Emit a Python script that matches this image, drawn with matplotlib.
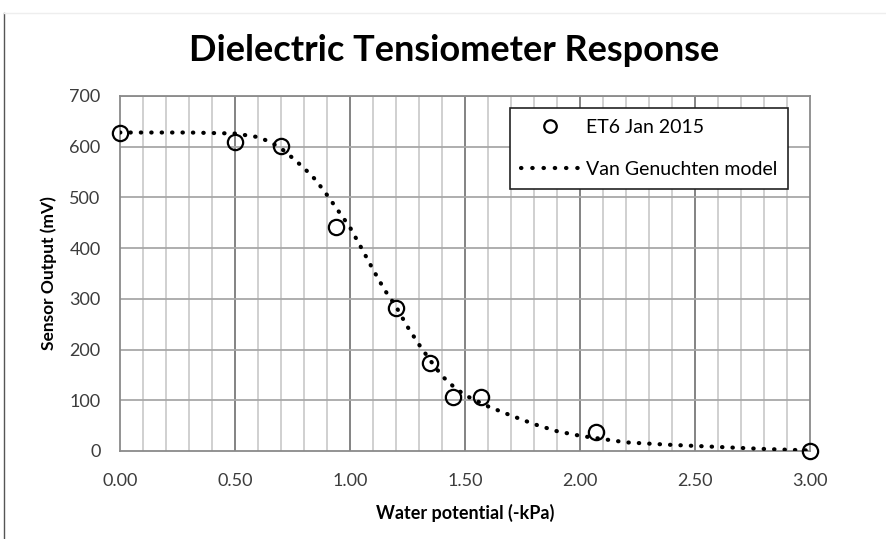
import numpy as np
import matplotlib.pyplot as plt
from matplotlib.lines import Line2D

# measured points (ET6 Jan 2015)
pot = [0.00, 0.50, 0.70, 0.94, 1.20, 1.35, 1.45, 1.57, 2.07, 3.00]
mv = [627, 609, 601, 442, 282, 173, 107, 106, 38, 0]

# Van Genuchten model curve
model_x = [0.00, 0.10, 0.20, 0.30, 0.40, 0.50, 0.60, 0.65, 0.70, 0.75, 0.80,
           0.85, 0.90, 0.95, 1.00, 1.05, 1.10, 1.15, 1.20, 1.25, 1.30, 1.35,
           1.40, 1.45, 1.50, 1.60, 1.70, 1.80, 1.90, 2.00, 2.20, 2.40, 2.60,
           2.80, 3.00]
model_y = [628, 628, 628, 628, 627, 626, 619, 610, 597, 578, 558,
           535, 505, 473, 441, 400, 358, 318, 285, 245, 210, 178,
           148, 127, 110, 88, 70, 53, 39, 30, 17, 12, 8, 4, 1]

plt.rcParams['font.family'] = ['Lato', 'DejaVu Sans']

fig = plt.figure(figsize=(8.86, 5.39), dpi=100)
ax = fig.add_axes([0.1354, 0.1633, 0.7788, 0.6586])

# grid
for v in np.arange(0.1, 3.0, 0.1):
    major = abs(v * 2 - round(v * 2)) < 1e-6
    ax.axvline(v, color='#7a7a7a' if major else '#c4c4c4',
               lw=1.3 if major else 1.1, zorder=0)
for h in range(100, 701, 100):
    ax.axhline(h, color='#a8a8a8', lw=1.3, zorder=0)

dots = (0, (0.1, 2.4))
ax.plot(model_x, model_y, color='black', lw=3.0, linestyle=dots,
        dash_capstyle='round', zorder=3)
ax.plot(pot, mv, linestyle='none', marker='o', markersize=11,
        markerfacecolor='none', markeredgecolor='black', markeredgewidth=1.6,
        zorder=4, clip_on=False)

ax.set_xlim(0, 3.0)
ax.set_ylim(0, 700)
xt = np.arange(0, 3.01, 0.5)
ax.set_xticks(xt)
ax.set_xticklabels([f"{t:.2f}" for t in xt])
ax.set_yticks(range(0, 701, 100))
ax.tick_params(length=0, labelsize=13, colors='#3c3c3c')
ax.tick_params(axis='y', pad=14)
ax.tick_params(axis='x', pad=16)
for s in ax.spines.values():
    s.set_color('#8a8a8a')
    s.set_linewidth(1.3)

ax.set_xlabel('Water potential (-kPa)', fontsize=13, fontweight='bold')
ax.xaxis.label.set_va('center')
ax.xaxis.set_label_coords(0.501, -0.175)
ax.set_ylabel('Sensor Output (mV)', fontsize=12.5, fontweight='bold')
ax.yaxis.label.set_va('center')
ax.yaxis.set_label_coords(-0.103, 0.5)

fig.text(0.512, 0.887, 'Dielectric Tensiometer Response', fontsize=26,
         fontweight='bold', ha='center', va='baseline')

handles = [
    Line2D([], [], linestyle='none', marker='o', markersize=9,
           markerfacecolor='none', markeredgecolor='black',
           markeredgewidth=1.6),
    Line2D([], [], color='black', lw=3.0, linestyle=(0, (0.1, 2.6)),
           dash_capstyle='round'),
]
leg = ax.legend(handles, ['ET6 Jan 2015', 'Van Genuchten model'],
                loc='upper right', bbox_to_anchor=(0.968, 0.966),
                borderaxespad=0, fontsize=14, frameon=True, fancybox=False,
                edgecolor='#222222', framealpha=1, handlelength=3.0,
                handletextpad=0.35, labelspacing=1.3, borderpad=0.55)
leg.get_frame().set_linewidth(1.2)

# faint outer border of the chart area
fig.add_artist(Line2D([0.0045, 0.0045], [0, 0.976], color='#555555', lw=1))
fig.add_artist(Line2D([0.0045, 1], [0.976, 0.976], color='#eeeeee', lw=1))

fig.savefig('out.png', dpi=100)
